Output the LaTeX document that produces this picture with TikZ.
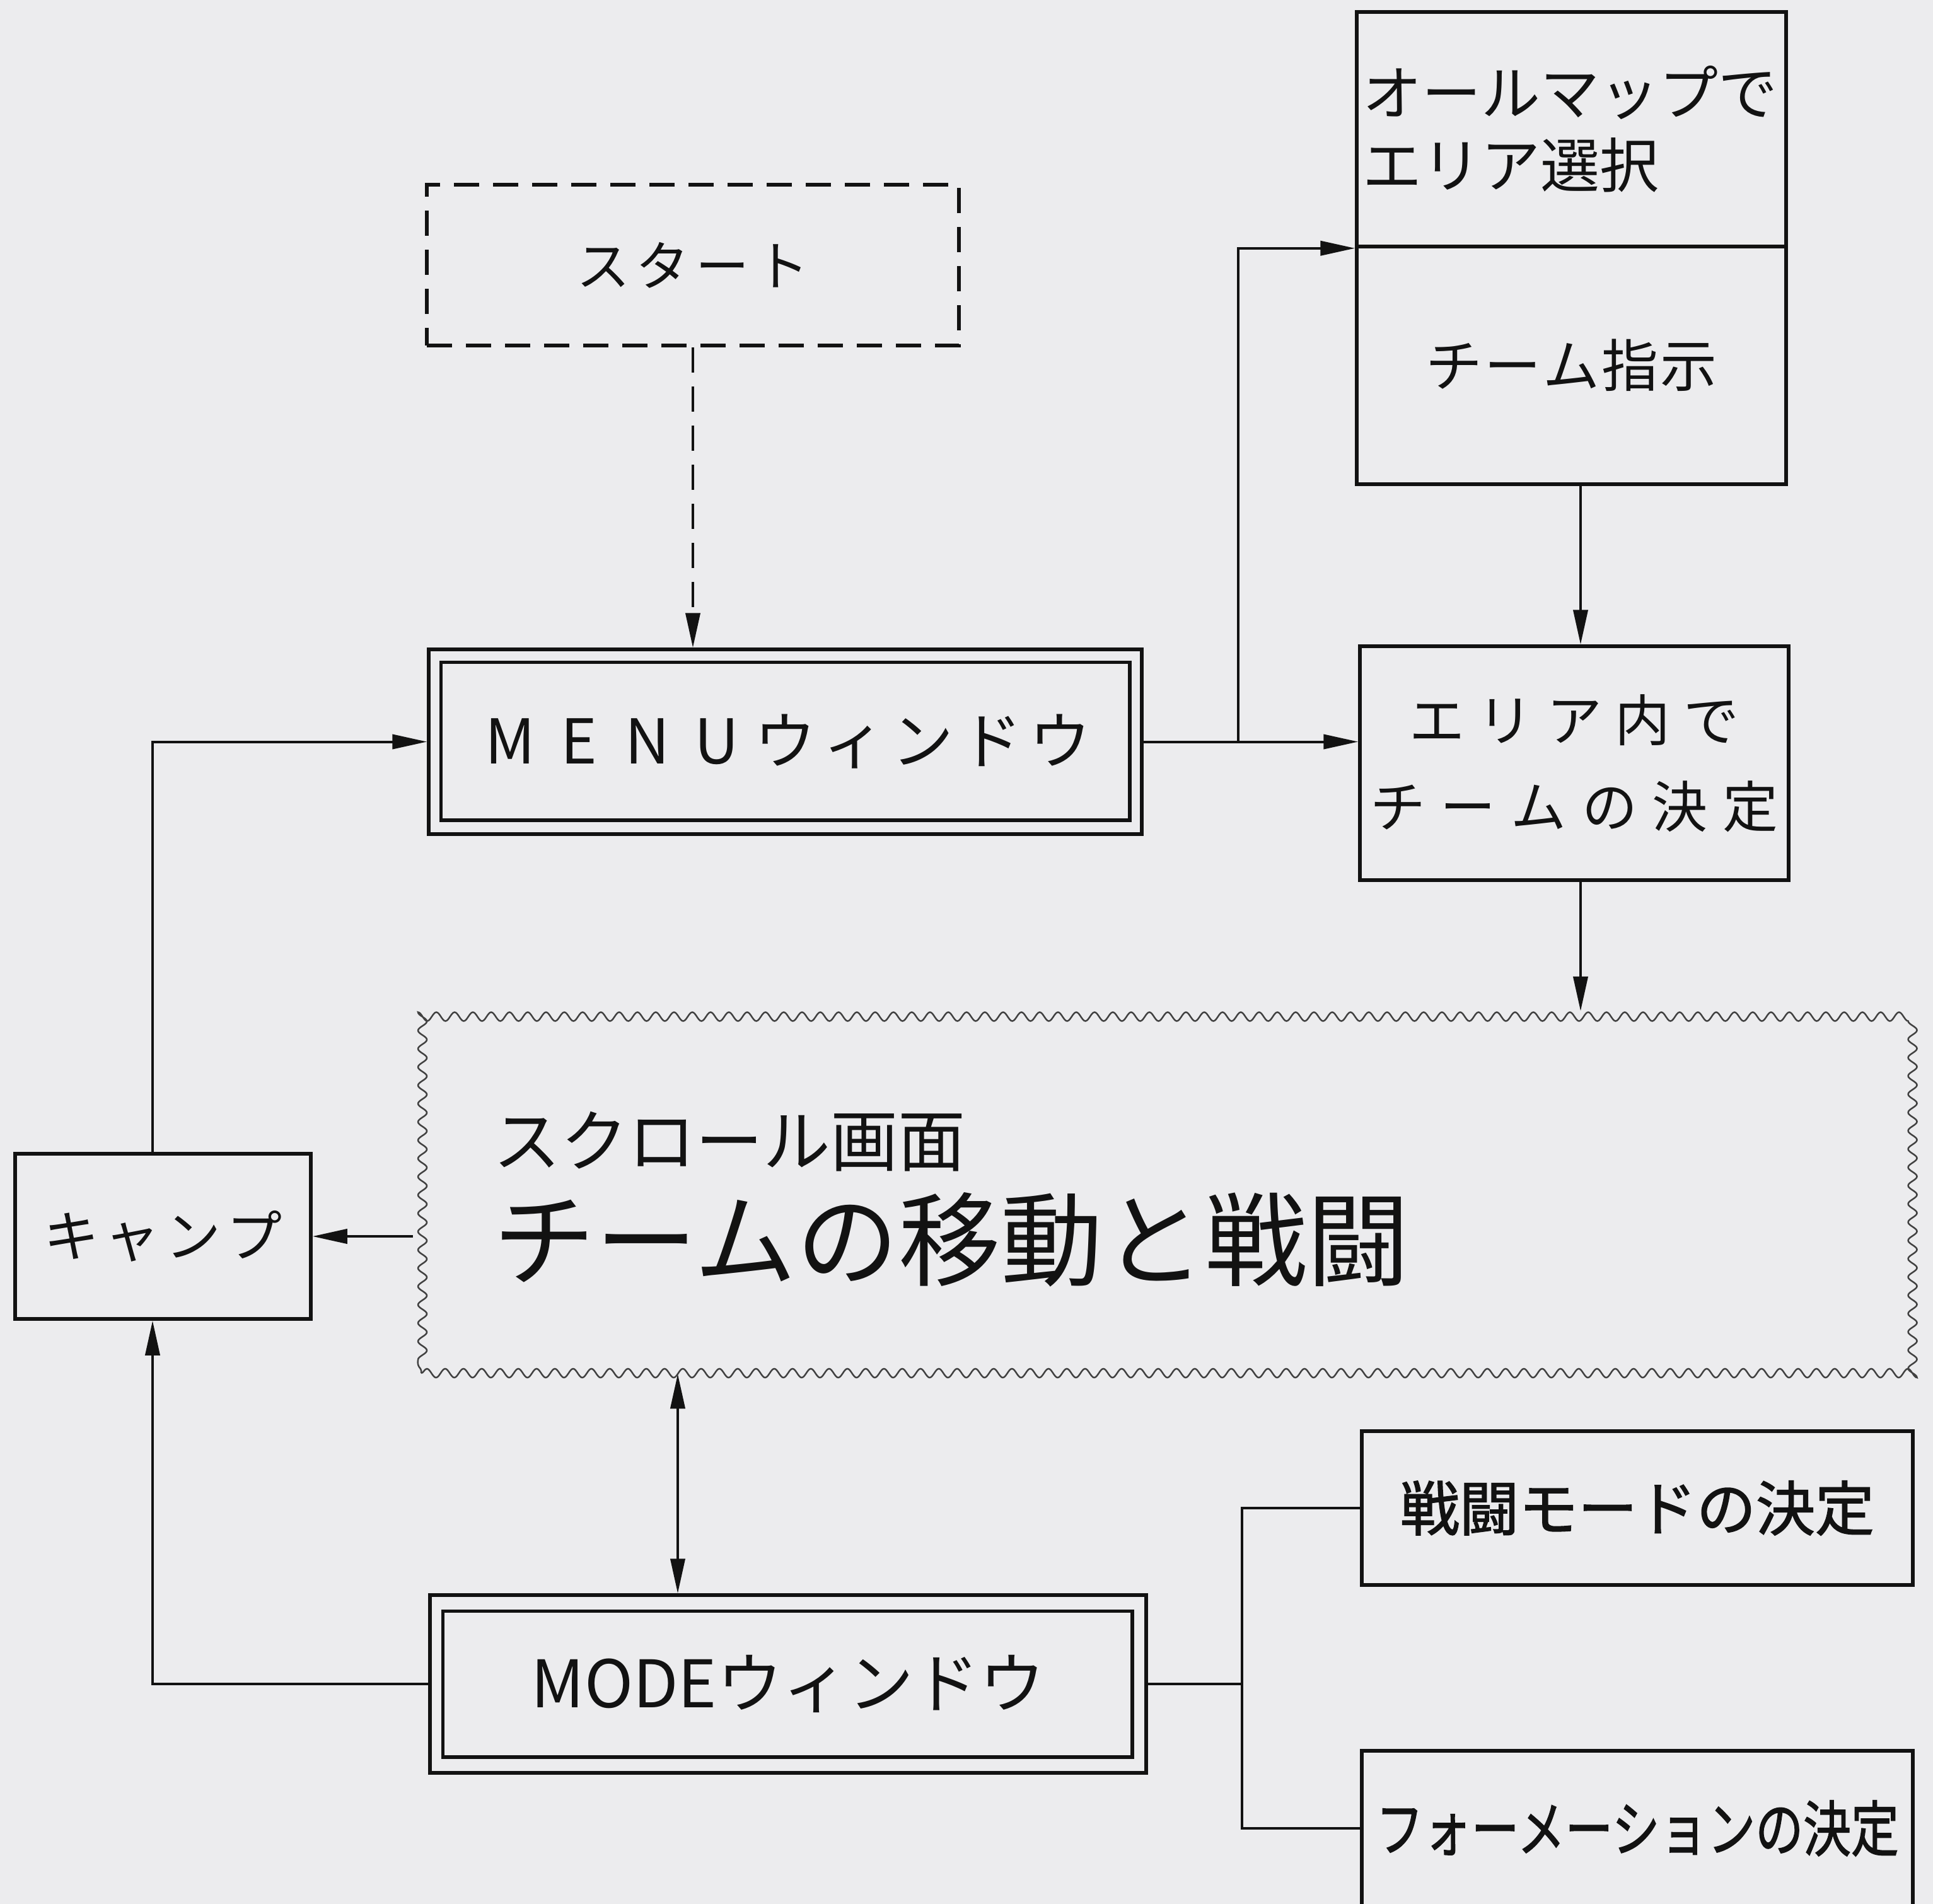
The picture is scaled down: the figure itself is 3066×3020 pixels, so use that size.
\documentclass[tikz,border=0pt]{standalone}
\usepackage{fontspec}
\usepackage{graphicx}
\newfontfamily\jp{Noto Sans CJK JP}
\newfontfamily\jpb{Noto Sans CJK JP}[FakeBold=1.6]
\usetikzlibrary{arrows.meta,decorations.pathmorphing,calc}
\definecolor{paper}{RGB}{236,236,238}
\definecolor{ink}{RGB}{18,18,18}
\makeatletter
\newcommand\trk[2]{\def\trk@w{#1}\trk@loop#2\relax}
\def\trk@loop#1{\ifx\relax#1\else\makebox[\trk@w]{#1}\expandafter\trk@loop\fi}
\makeatother
\begin{document}
\begin{tikzpicture}[x=1pt,y=-1pt,
  box/.style={draw=ink, line width=5.5pt, rectangle, inner sep=0pt, font=\jp, text=ink},
  boxline/.style={draw=ink, line width=5.5pt},
  label/.style={font=\jp, text=ink, inner sep=0pt},
  conn/.style={draw=ink, line width=4pt},
  arr/.style={conn, -{Triangle[length=55pt,width=23pt]}},
  dbl/.style={conn, {Triangle[length=55pt,width=23pt]}-{Triangle[length=55pt,width=23pt]}},
  dashline/.style={dash pattern=on 40pt off 22pt},
  wavy/.style={draw=ink!80, line width=2.5pt, decorate,
    decoration={snake, segment length=29pt, amplitude=7pt}, inner sep=0pt}
]
\fill[paper] (0,0) rectangle (3066,3020);
\useasboundingbox (0,0) rectangle (3066,3020);
\clip (0,0) rectangle (3066,3020);

% nodes
\node[box, dashline, minimum width=844pt, minimum height=255pt] (start) at (1099,420.5)
  {\fontsize{85}{100}\selectfont\trk{95pt}{スタート}};

\node[box, minimum width=1131pt, minimum height=293pt] (menu) at (1245.5,1176.5)
  {\fontsize{98}{110}\selectfont\trk{109pt}{MENUウィンドウ}};
\draw[boxline] ([shift={(22,23)}]menu.north west) rectangle ([shift={(-22,-25)}]menu.south east);

\node[box, font={\jp\fontsize{94}{115}\selectfont}, minimum width=681pt, minimum height=372pt,
  text width=662pt, align=left, inner xsep=9.5pt] (tb1) at (2492.5,205)
  {オールマップで\\エリア選択};
\node[box, minimum width=681pt, minimum height=377pt] (tb2) at (2492.5,579.5)
  {\fontsize{90}{100}\selectfont\trk{93pt}{チーム指示}};

\node[box, font={\jp\fontsize{88}{137}\selectfont}, minimum width=680pt, minimum height=371pt, align=center] (ea) at (2497,1210.5)
  {\trk{109pt}{エリア内で}\\\trk{112pt}{チームの決定}};

\node[wavy, minimum width=2360pt, minimum height=573pt] (wv) at (1848,1891.5) {};
\node[label, anchor=west] (scr) at (782,1811) {\fontsize{107}{110}\selectfont スクロール画面};
\node[label, anchor=west] (tmv) at (782,1966) {\fontsize{162}{170}\selectfont チームの移動と戦闘};

\node[box, minimum width=469pt, minimum height=262pt] (camp) at (258.5,1961)
  {\fontsize{88}{100}\selectfont\trk{97pt}{キャンプ}};

\node[box, minimum width=1136pt, minimum height=282pt] (mode) at (1250,2671)
  {\fontsize{104}{110}\selectfont MODEウィンドウ};
\draw[boxline] ([shift={(23,28)}]mode.north west) rectangle ([shift={(-25,-28)}]mode.south east);

\node[box, font=\jpb, minimum width=874pt, minimum height=244pt] (bm) at (2597,2392)
  {\fontsize{94}{100}\selectfont 戦闘モードの決定};
\node[box, font=\jpb, minimum width=874pt, minimum height=246pt] (fm) at (2597,2900)
  {\fontsize{96}{100}\selectfont\scalebox{0.79}[1]{フォーメーションの決定}};

% helper x positions
\coordinate (brx) at (1964,0);
\coordinate (ax) at (2507,0);
\coordinate (cx) at (242,0);
\coordinate (dx) at (1075,0);
\coordinate (mx) at (1970,0);

% connectors
\draw[arr, dashline] (start.south) -- (start.south |- menu.north);
\draw[arr] (menu.east) -- (menu.east -| ea.west);
\draw[arr] (brx |- menu.east) |- (tb1.south west);
\draw[arr] (ax |- tb2.south) -- (ax |- ea.north);
\draw[arr] (ax |- ea.south) -- (ax |- wv.north);
\draw[arr] ([xshift=-12pt]wv.west |- camp.east) -- (camp.east);
\draw[arr] (cx |- camp.north) |- (menu.west);
\draw[arr] (mode.west) -| (cx |- camp.south);
\draw[dbl] (dx |- wv.south) -- (dx |- mode.north);
\draw[conn] (mode.east) -- (mx |- mode.east);
\draw[conn] (bm.west) -| (mx |- fm.west) -- (fm.west);
\end{tikzpicture}
\end{document}
